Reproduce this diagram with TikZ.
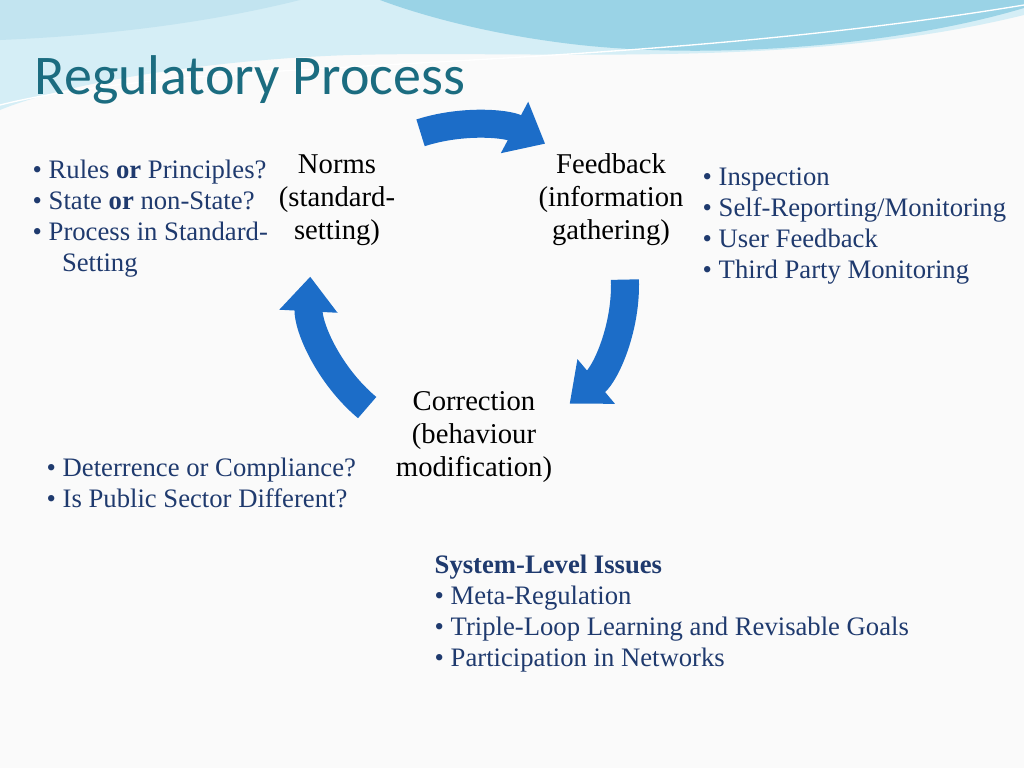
\documentclass[tikz,border=0pt]{standalone}
\usepackage{fontspec}
\setmainfont{Liberation Serif}
\newfontfamily\titlefont{Carlito}
\usetikzlibrary{arrows.meta}
\definecolor{tealT}{HTML}{1B6C80}
\definecolor{navy}{HTML}{1F3A6E}
\definecolor{arrowblue}{HTML}{1C6DC8}
\definecolor{wave}{HTML}{9AD3E6}
\definecolor{wave2}{HTML}{D5EEF6}
\tikzset{
 big/.style={align=center,font=\fontsize{21.5}{24.8}\selectfont,text=black},
 blist/.style={align=left,anchor=north west,font=\fontsize{20}{23.3}\selectfont,text=navy},
 cyc/.style={draw=arrowblue,line width=21pt,-{Triangle[width=42pt,length=26pt]}}
}
\begin{document}
\begin{tikzpicture}[x=0.75pt,y=-0.75pt]
\useasboundingbox (0,0) rectangle (1024,768);
\fill[white!96!gray] (0,0) rectangle (1024,768);
% top waves
\fill[wave2] (0,0) -- (1024,0) -- (1024,15) .. controls (800,70) and (550,50) .. (350,55) .. controls (200,60) and (60,85) .. (0,110) -- cycle;
\fill[wave] (380,0) -- (1024,0) -- (1024,8) .. controls (900,45) and (720,60) .. (580,45) .. controls (490,35) and (420,15) .. (380,0) -- cycle;
\fill[wave!60!white] (0,0) -- (300,0) .. controls (220,20) and (120,35) .. (0,40) -- cycle;
\draw[white,line width=1pt] (0,105) .. controls (200,55) and (600,75) .. (1024,5);
\node[anchor=west,font=\titlefont\fontsize{42}{46}\selectfont,text=tealT] (title) at (30,80) {Regulatory Process};
% cycle arrows
\coordinate (c) at (470,285);
\draw[cyc] (c) ++(-108:160) arc[start angle=-108,end angle=-62,radius=160];
\draw[cyc] (c) ++(-2:155) arc[start angle=-2,end angle=50,radius=155];
\draw[cyc] (c) ++(130:160) arc[start angle=130,end angle=183,radius=160];
% nodes
\node[big] (norms) at (337,200) {Norms\\(standard-\\setting)};
\node[big] (feed) at (611,200) {Feedback\\(information\\gathering)};
\node[big] (corr) at (474,437) {Correction\\(behaviour\\modification)};
\node[blist] (l1) at (28,155) {\textbullet\ Rules \textbf{or} Principles?\\\textbullet\ State \textbf{or} non-State?\\\textbullet\ Process in Standard-\\\hspace*{1.1em}Setting};
\node[blist] (l2) at (698,163) {\textbullet\ Inspection\\\textbullet\ Self-Reporting/Monitoring\\\textbullet\ User Feedback\\\textbullet\ Third Party Monitoring};
\node[blist] (l3) at (42,453) {\textbullet\ Deterrence or Compliance?\\\textbullet\ Is Public Sector Different?};
\node[blist] (l4) at (430,550) {\textbf{System-Level Issues}\\\textbullet\ Meta-Regulation\\\textbullet\ Triple-Loop Learning and Revisable Goals\\\textbullet\ Participation in Networks};
\end{tikzpicture}
\end{document}
